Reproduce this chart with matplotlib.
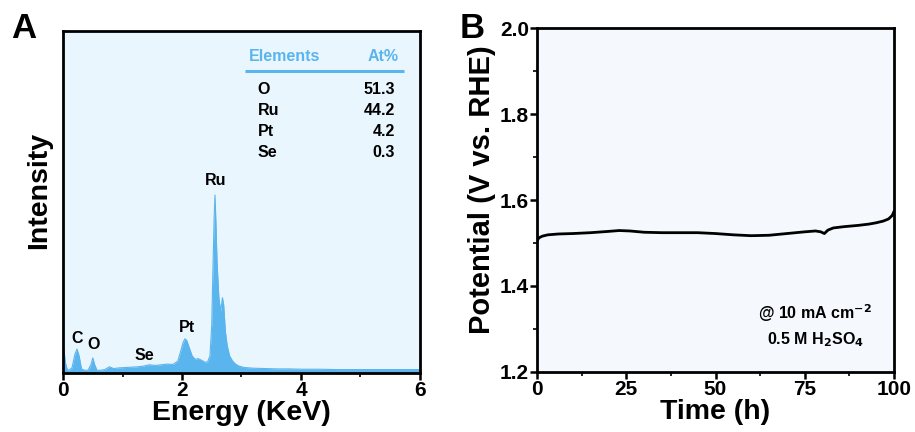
import matplotlib
matplotlib.use("Agg")
import matplotlib.pyplot as plt
from matplotlib.ticker import MultipleLocator

plt.rcParams['font.family'] = ['Liberation Sans', 'DejaVu Sans']
plt.rcParams['font.weight'] = 'bold'

# ---- Panel A data (EDS spectrum) ----
energy = [0.00, 0.02, 0.04, 0.07, 0.10, 0.15, 0.20, 0.235, 0.27, 0.31,
          0.36, 0.42, 0.47, 0.50, 0.53, 0.57, 0.63, 0.70, 0.78, 0.85,
          0.95, 1.05, 1.15, 1.25, 1.35, 1.45, 1.55, 1.65, 1.75, 1.85,
          1.93, 1.98, 2.02, 2.05, 2.08, 2.12, 2.17, 2.22, 2.27, 2.32,
          2.38, 2.43, 2.47, 2.50, 2.52, 2.54, 2.555, 2.57, 2.59, 2.62,
          2.65, 2.68, 2.70, 2.73, 2.76, 2.80, 2.85, 2.90, 2.96, 3.05,
          3.2, 3.4, 3.6, 3.8, 4.0, 4.3, 4.6, 5.0, 5.4, 5.8, 6.0]
intensity = [7.5, 6.0, 3.0, 1.0, 0.8, 1.5, 5.5, 7.0, 5.0, 1.2,
             0.8, 0.8, 2.5, 4.4, 2.5, 0.8, 0.8, 1.0, 1.8, 1.3,
             1.5, 1.6, 1.7, 1.8, 2.0, 2.4, 2.2, 2.4, 2.6, 2.5,
             3.5, 6.5, 9.0, 10.0, 9.5, 7.5, 5.0, 4.0, 4.2, 3.8,
             3.2, 3.2, 5.0, 14.0, 30.0, 45.0, 52.0, 44.0, 32.0, 22.0,
             18.0, 22.0, 20.0, 12.0, 8.0, 5.0, 3.5, 2.6, 2.0, 1.6,
             1.4, 1.3, 1.2, 1.2, 1.1, 1.1, 1.0, 1.0, 1.0, 1.0, 1.0]

peak_labels = ["C", "O", "Se", "Pt", "Ru"]
peak_label_x = [0.23, 0.51, 1.36, 2.09, 2.56]
peak_label_y = [7.8, 6.2, 3.0, 11.0, 54.0]

elements = ["O", "Ru", "Pt", "Se"]
at_percent = ["51.3", "44.2", "4.2", "0.3"]

# ---- Panel B data (chronopotentiometry) ----
time_h = [0, 0.5, 1.5, 3, 6, 10, 15, 20, 23, 26, 30, 35, 40, 45, 50,
          55, 60, 65, 70, 75, 78, 79.5, 80.5, 81.5, 83, 86, 90, 93, 95,
          97, 98.5, 99.5, 100]
potential = [1.505, 1.512, 1.516, 1.519, 1.521, 1.522, 1.524, 1.527, 1.529,
             1.528, 1.525, 1.524, 1.524, 1.524, 1.522, 1.519, 1.517, 1.518,
             1.522, 1.526, 1.528, 1.526, 1.522, 1.530, 1.535, 1.538, 1.541,
             1.544, 1.547, 1.551, 1.556, 1.564, 1.573]

blue = '#5ab4ee'
tick_fs = 15
lab_fs = 20.5
small_fs = 11.5

fig = plt.figure(figsize=(9.15, 4.32), dpi=100)

# ---------------- Panel A ----------------
axA = fig.add_axes([0.0689, 0.1366, 0.390, 0.792])
axA.set_facecolor('#eaf6fd')
axA.fill_between(energy, 0, intensity, color=blue, lw=0)
axA.plot(energy, intensity, color=blue, lw=0.8)
axA.set_xlim(0, 6)
axA.set_ylim(0, 100)
axA.set_yticks([])
axA.xaxis.set_major_locator(MultipleLocator(2))
axA.xaxis.set_minor_locator(MultipleLocator(1))
axA.tick_params(axis='x', which='major', direction='out', length=5, width=1.8,
                labelsize=tick_fs, pad=1)
axA.tick_params(axis='x', which='minor', direction='out', length=3, width=1.2)
for lab in axA.get_xticklabels():
    lab.set_fontweight('bold')
for s in axA.spines.values():
    s.set_linewidth(2.0)
axA.set_xlabel('Energy (KeV)', fontsize=lab_fs, fontweight='bold', labelpad=0)
axA.set_ylabel('Intensity', fontsize=lab_fs, fontweight='bold')
axA.yaxis.set_label_coords(-0.03, 0.535)

for t, x, y in zip(peak_labels, peak_label_x, peak_label_y):
    axA.text(x, y, t, ha='center', va='bottom', fontsize=small_fs, fontweight='bold')

# table
axA.text(0.52, 0.925, 'Elements', transform=axA.transAxes, color=blue,
         fontsize=small_fs, fontweight='bold', ha='left', va='center')
axA.text(0.94, 0.925, 'At%', transform=axA.transAxes, color=blue,
         fontsize=small_fs, fontweight='bold', ha='right', va='center')
axA.plot([0.51, 0.955], [0.883, 0.883], transform=axA.transAxes, color=blue,
         lw=2.2, solid_capstyle='butt')
row_y0 = 0.828
dy = 0.0615
for i, (el, v) in enumerate(zip(elements, at_percent)):
    y = row_y0 - i * dy
    axA.text(0.545, y, el, transform=axA.transAxes, fontsize=small_fs,
             fontweight='bold', ha='left', va='center')
    axA.text(0.93, y, v, transform=axA.transAxes, fontsize=small_fs,
             fontweight='bold', ha='right', va='center')

fig.text(0.026, 0.933, 'A', fontsize=25, fontweight='bold', ha='center', va='center')

# ---------------- Panel B ----------------
axB = fig.add_axes([0.587, 0.139, 0.390, 0.796])
axB.set_facecolor('#f5f8fc')
axB.plot(time_h, potential, color='black', lw=2.0)
axB.set_xlim(0, 100)
axB.set_ylim(1.2, 2.0)
axB.xaxis.set_major_locator(MultipleLocator(25))
axB.xaxis.set_minor_locator(MultipleLocator(12.5))
axB.yaxis.set_major_locator(MultipleLocator(0.2))
axB.yaxis.set_minor_locator(MultipleLocator(0.1))
axB.tick_params(which='major', direction='out', length=5, width=1.8,
                labelsize=tick_fs, pad=1)
axB.tick_params(which='minor', direction='out', length=3, width=1.2)
for lab in axB.get_xticklabels() + axB.get_yticklabels():
    lab.set_fontweight('bold')
axB.yaxis.set_major_formatter(matplotlib.ticker.FormatStrFormatter('%.1f'))
for s in axB.spines.values():
    s.set_linewidth(2.0)
axB.set_xlabel('Time (h)', fontsize=lab_fs, fontweight='bold', labelpad=0)
axB.set_ylabel('Potential (V vs. RHE)', fontsize=21, fontweight='bold')
axB.yaxis.set_label_coords(-0.115, 0.53)

axB.text(0.78, 0.172, '@ 10 mA cm$^{\\mathbf{-2}}$', transform=axB.transAxes,
         fontsize=small_fs, fontweight='bold', ha='center', va='center')
axB.text(0.78, 0.094, '0.5 M H$_{\\mathbf{2}}$SO$_{\\mathbf{4}}$', transform=axB.transAxes,
         fontsize=small_fs, fontweight='bold', ha='center', va='center')

fig.text(0.516, 0.935, 'B', fontsize=25, fontweight='bold', ha='center', va='center')

fig.savefig('out.png', dpi=100)
